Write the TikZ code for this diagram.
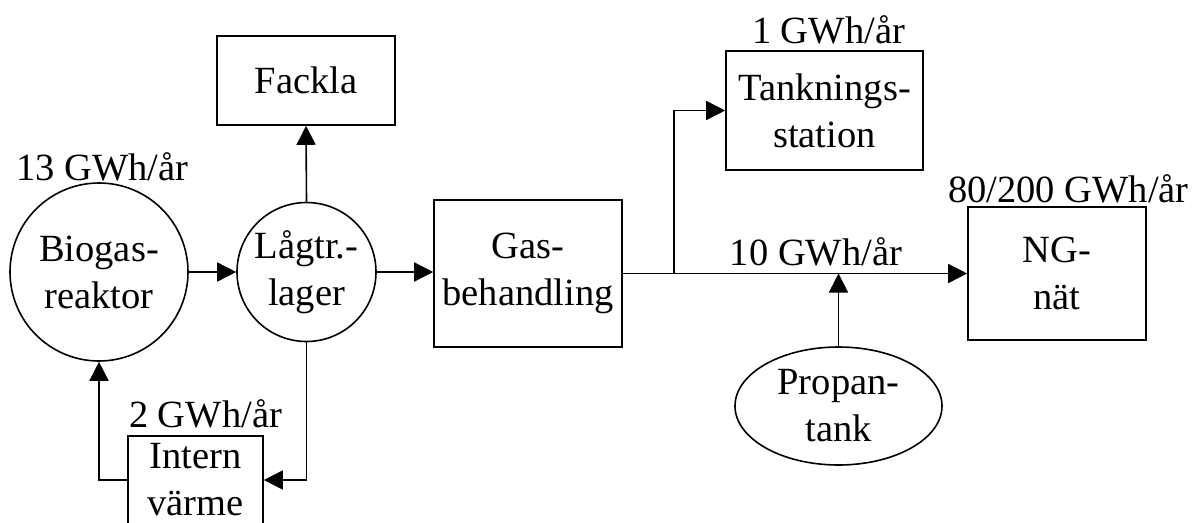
\documentclass[tikz,border=0pt]{standalone}
\usepackage{fontspec}
\setmainfont{Liberation Serif}
\usetikzlibrary{arrows.meta,shapes.geometric}
\begin{document}
\begin{tikzpicture}[x=1pt,y=-1pt,
  every node/.style={font=\fontsize{38.5}{47}\selectfont, align=center, inner sep=0pt},
  unit/.style={draw, line width=1.6pt},
  boxnode/.style={unit, rectangle},
  roundnode/.style={unit, circle},
  tanknode/.style={unit, ellipse},
  flow/.style={line width=1.6pt, -{Triangle[length=19pt,width=19pt]}},
  amount/.style={anchor=base}]
  \useasboundingbox (0,0) rectangle (1196,522);

  % process units
  \node[roundnode, minimum size=178pt] (bio) at (99,272) {Biogas-\\reaktor};
  \node[roundnode, minimum size=139pt] (lag) at (306.5,272) {Lågtr.-\\lager};
  \node[boxnode, minimum width=178pt, minimum height=89pt] (fackla) at (306,80.5) {Fackla};
  \node[boxnode, minimum width=135pt, minimum height=88pt] (intern) at (195.5,480) {Intern\\värme};
  \node[boxnode, minimum width=188pt, minimum height=147pt] (gas) at (528,273.5) {Gas-\\behandling};
  \node[boxnode, minimum width=197pt, minimum height=119pt] (tank) at (824.5,110.5) {Tanknings-\\station};
  \node[boxnode, minimum width=178pt, minimum height=133pt] (ng) at (1057,273.5) {NG-\\nät};
  \node[tanknode, minimum width=207pt, minimum height=118pt] (prop) at (838.5,406) {Propan-\\tank};

  % energy amounts
  \node[amount] (e13) at (102.5,180) {13 GWh/år};
  \node[amount] (e2) at (205.5,427) {2 GWh/år};
  \node[amount] (e1) at (828.5,43) {1 GWh/år};
  \node[amount] (e10) at (816,265) {10 GWh/år};
  \node[amount] (e80) at (1068.5,202) {80/200 GWh/år};

  % gas and heat flows
  \coordinate (split) at (674,273.5);
  \draw[flow] (bio.east) -- (lag.west);
  \draw[flow] (lag.north) -- (fackla.south);
  \draw[flow] (lag.east) -- (lag.east -| gas.west);
  \draw[flow] (lag.south) |- (intern.east);
  \draw[flow] (intern.west) -| (bio.south);
  \draw[line width=1.6pt] (gas.east) -- (split);
  \draw[flow] (split) |- (tank.west);
  \draw[flow] (split) -- (ng.west);
  \draw[flow] (prop.north) -- (prop.north |- ng.west);
\end{tikzpicture}
\end{document}
